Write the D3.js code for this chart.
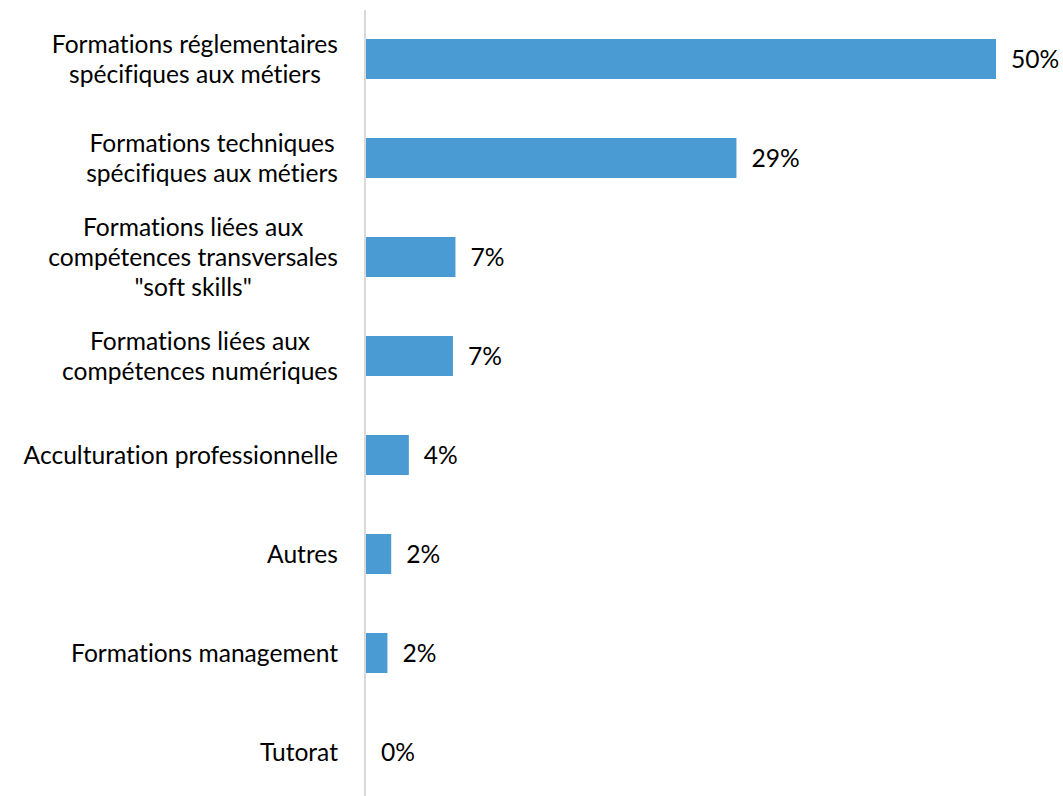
<!DOCTYPE html>
<html><head><meta charset="utf-8">
<script src="https://cdn.jsdelivr.net/npm/d3@7"></script>
<style>html,body{margin:0;padding:0;background:#fff;}svg{display:block;}text{font-variant-ligatures:none;font-feature-settings:"liga" 0;}</style>
</head><body>
<svg id="chart" width="1063" height="796"></svg>
<script>
const categories = [
  ["Formations réglementaires", "spécifiques aux métiers"],
  ["Formations techniques", "spécifiques aux métiers"],
  ["Formations liées aux", "compétences transversales", "\"soft skills\""],
  ["Formations liées aux", "compétences numériques"],
  ["Acculturation professionnelle"],
  ["Autres"],
  ["Formations management"],
  ["Tutorat"]
];
const values = [50, 29.4, 7.1, 6.9, 3.4, 2.0, 1.7, 0];
const valueLabels = ["50%", "29%", "7%", "7%", "4%", "2%", "2%", "0%"];

const svg = d3.select("#chart");
const fontFamily = "Lato, 'Open Sans', sans-serif";
const fontSize = 24.6;

const x = d3.scaleLinear().domain([0, 50]).range([366, 996]);
const y = d3.scaleBand().domain(d3.range(categories.length)).range([9.5, 801.5])
  .paddingInner(0.596).paddingOuter(0.298);

svg.append("g").selectAll("rect").data(values).join("rect")
  .attr("x", x(0)).attr("y", (d, i) => y(i))
  .attr("width", d => x(d) - x(0)).attr("height", y.bandwidth())
  .attr("fill", "#4a9bd3");

svg.append("line").attr("x1", 365).attr("x2", 365).attr("y1", 10).attr("y2", 796)
  .attr("stroke", "#d9d9d9").attr("stroke-width", 2);

svg.append("g").selectAll("text").data(values).join("text")
  .attr("x", d => x(d) + 15).attr("y", (d, i) => y(i) + y.bandwidth() / 2)
  .attr("dy", "0.35em")
  .attr("font-family", fontFamily).attr("font-size", fontSize).attr("fill", "#000")
  .text((d, i) => valueLabels[i]);

const lineH = 30;
const lg = svg.append("g");
categories.forEach((lines, i) => {
  const cy = y(i) + y.bandwidth() / 2;
  const t = lg.append("text").attr("font-family", fontFamily).attr("font-size", fontSize)
    .attr("fill", "#000").attr("text-anchor", "middle");
  lines.forEach((ln, j) => {
    t.append("tspan").attr("y", cy + (j - (lines.length - 1) / 2) * lineH).attr("dy", "0.35em").text(ln);
  });
  let maxW = 0;
  t.selectAll("tspan").each(function(){ maxW = Math.max(maxW, this.getComputedTextLength()); });
  t.selectAll("tspan").attr("x", 338 - maxW / 2);
});
</script>
</body></html>
